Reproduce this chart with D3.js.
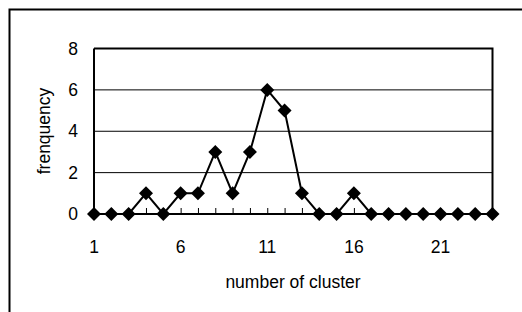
<!DOCTYPE html>
<html><head><meta charset="utf-8">
<script src="https://cdn.jsdelivr.net/npm/d3@7"></script>
<style>body{margin:0;background:#fff}svg{display:block}text{font-family:"Liberation Sans",Arial,sans-serif;fill:#000}</style>
</head><body><svg id="c" width="522" height="312"></svg>
<script>
const clusters = d3.range(1, 25);
const frequency = [0,0,0,1,0,1,1,3,1,3,6,5,1,0,0,1,0,0,0,0,0,0,0,0];
const xTickLabels = [1,6,11,16,21];
const yTicks = [0,2,4,6,8];

const svg = d3.select("#c");
const L = 94, R = 492.5, T = 48.5, B = 214;
const FS = 17.5;
const x = d3.scaleLinear().domain([1,24]).range([L,R]);
const y = d3.scaleLinear().domain([0,8]).range([B,T]);

// outer frame
svg.append("rect").attr("x",9.5).attr("y",9.5).attr("width",560).attr("height",340)
  .attr("fill","none").attr("stroke","#000").attr("stroke-width",2);

// gridlines
svg.append("g").selectAll("line").data([2,4,6]).join("line")
  .attr("x1",L).attr("x2",R).attr("y1",d=>y(d)).attr("y2",d=>y(d))
  .attr("stroke","#000").attr("stroke-width",1);

// plot border top & right
svg.append("path").attr("d",`M${L},${T}H${R}V${B}`).attr("fill","none")
  .attr("stroke","#000").attr("stroke-width",2);

// x axis
const xAxis = d3.axisBottom(x).tickValues(clusters).tickSize(-6).tickFormat("");
const gx = svg.append("g").attr("transform",`translate(0,${B})`).call(xAxis);
gx.select(".domain").attr("stroke-width",2).attr("d",`M${L},0H${R}`);
gx.selectAll(".tick line").attr("stroke-width",1);
svg.append("g").selectAll("text").data(xTickLabels).join("text")
  .attr("x",d=>x(d)).attr("y",253).attr("text-anchor","middle")
  .attr("font-size",FS).text(d=>d);

// y axis
const yAxis = d3.axisLeft(y).tickValues(yTicks).tickSize(0).tickPadding(16);
const gy = svg.append("g").attr("transform",`translate(${L},0)`).call(yAxis);
gy.attr("font-size",FS).attr("font-family","Liberation Sans, Arial, sans-serif");
gy.select(".domain").attr("stroke-width",2).attr("d",`M0,${T}V${B}`);
gy.selectAll("text").attr("font-size",FS).attr("fill","#000");

// axis titles
svg.append("text").attr("x",293).attr("y",288).attr("text-anchor","middle")
  .attr("font-size",FS).text("number of cluster");
svg.append("text").attr("transform",`translate(50,131) rotate(-90)`)
  .attr("text-anchor","middle").attr("font-size",FS).text("frenquency");

// line
const pts = clusters.map((c,i)=>[c,frequency[i]]);
svg.append("path").datum(pts)
  .attr("d",d3.line().x(d=>x(d[0])).y(d=>y(d[1])))
  .attr("fill","none").attr("stroke","#000").attr("stroke-width",2);

// markers
svg.append("g").selectAll("path").data(pts).join("path")
  .attr("transform",d=>`translate(${x(d[0])},${y(d[1])})`)
  .attr("d","M0,-7L7,0L0,7L-7,0Z").attr("fill","#000");
</script></body></html>
